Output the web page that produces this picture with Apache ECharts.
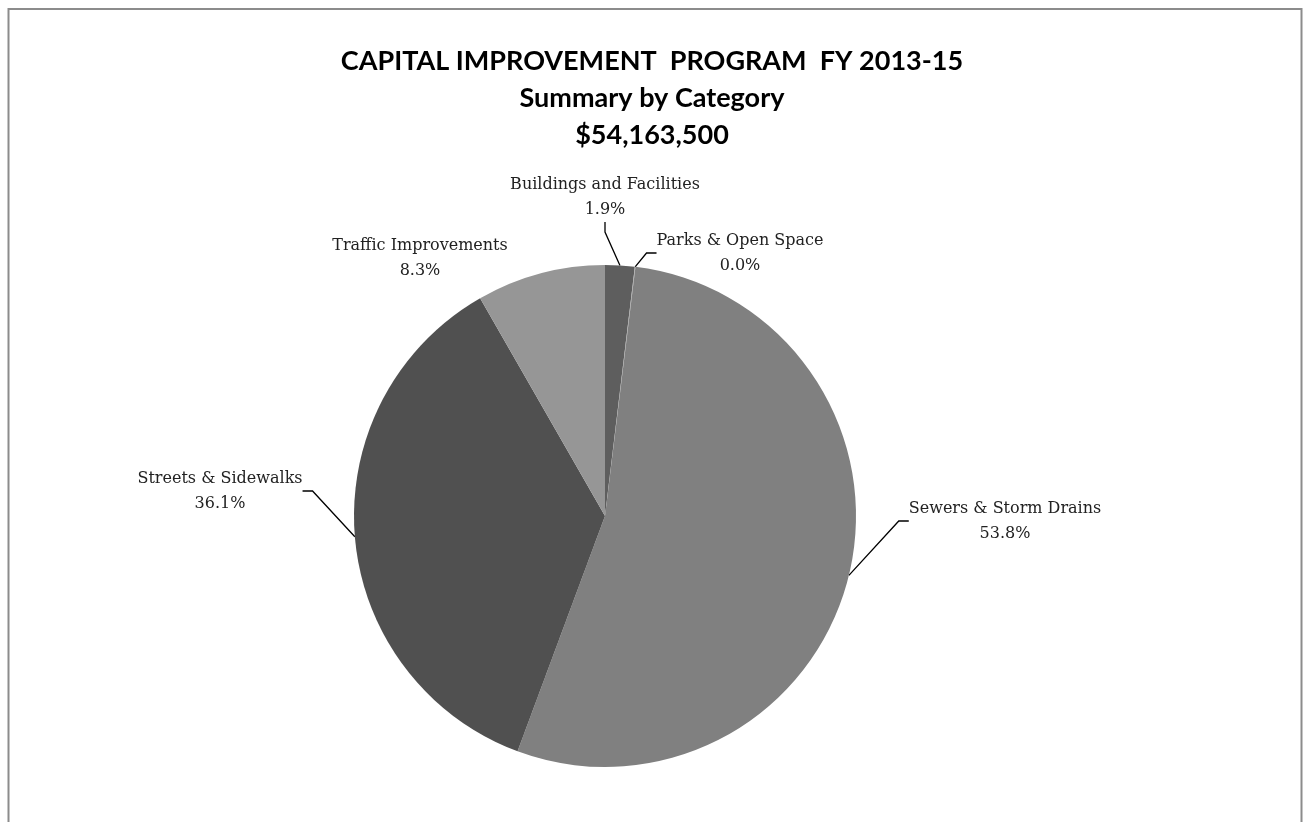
<!DOCTYPE html>
<html><head><meta charset="utf-8">
<script src="https://cdn.jsdelivr.net/npm/echarts@6/dist/echarts.min.js"></script>
<style>html,body{margin:0;padding:0;background:#fff;}#c{width:1304px;height:822px;}</style>
</head><body><div id="c"></div>
<script>
const categories = ['Buildings and Facilities','Parks & Open Space','Sewers & Storm Drains','Streets & Sidewalks','Traffic Improvements'];
const percents = [1.9, 0.04, 53.8, 36.1, 8.3];
const colors = ['#5e5e5e','#a6a6a6','#808080','#505050','#969696'];
const titleLines = ['CAPITAL IMPROVEMENT  PROGRAM  FY 2013-15','Summary by Category','$54,163,500'];

// label anchor (centre-top) per category, page pixels
const labelAnchors = [[605,172],[740,228],[1005,496],[220,466],[420,233]];
const showLine = [true, true, true, true, false];

const chart = echarts.init(document.getElementById('c'));
chart.setOption({
  backgroundColor:'#fff',
  animation:false,
  title:{
    text: titleLines.join('\n'),
    left:'center', top:38,
    textStyle:{fontFamily:'Lato', fontWeight:'bold', fontSize:27, lineHeight:37, color:'#000'}
  },
  graphic:[{type:'rect', shape:{x:8.5,y:9,width:1293,height:900}, style:{fill:null, stroke:'#8c8c8c', lineWidth:2}}],
  series:[{
    type:'pie',
    center:[605,516], radius:251,
    startAngle:90, clockwise:true,
    data: categories.map((n,i)=>({name:n, value:percents[i], itemStyle:{color:colors[i]}, labelLine:{show:showLine[i]}})),
    label:{
      show:true, position:'outside',
      formatter: p => p.name + '\n' + p.value.toFixed(1) + '%',
      fontFamily:'DejaVu Serif', fontSize:16, lineHeight:25, color:'#222', align:'center'
    },
    labelLine:{show:true, length:20, length2:10, lineStyle:{color:'#000', width:1.3}},
    labelLayout: p => ({x: labelAnchors[p.dataIndex][0], y: labelAnchors[p.dataIndex][1], align:'center', verticalAlign:'top'}),
    emphasis:{disabled:true}
  }]
});
</script></body></html>
